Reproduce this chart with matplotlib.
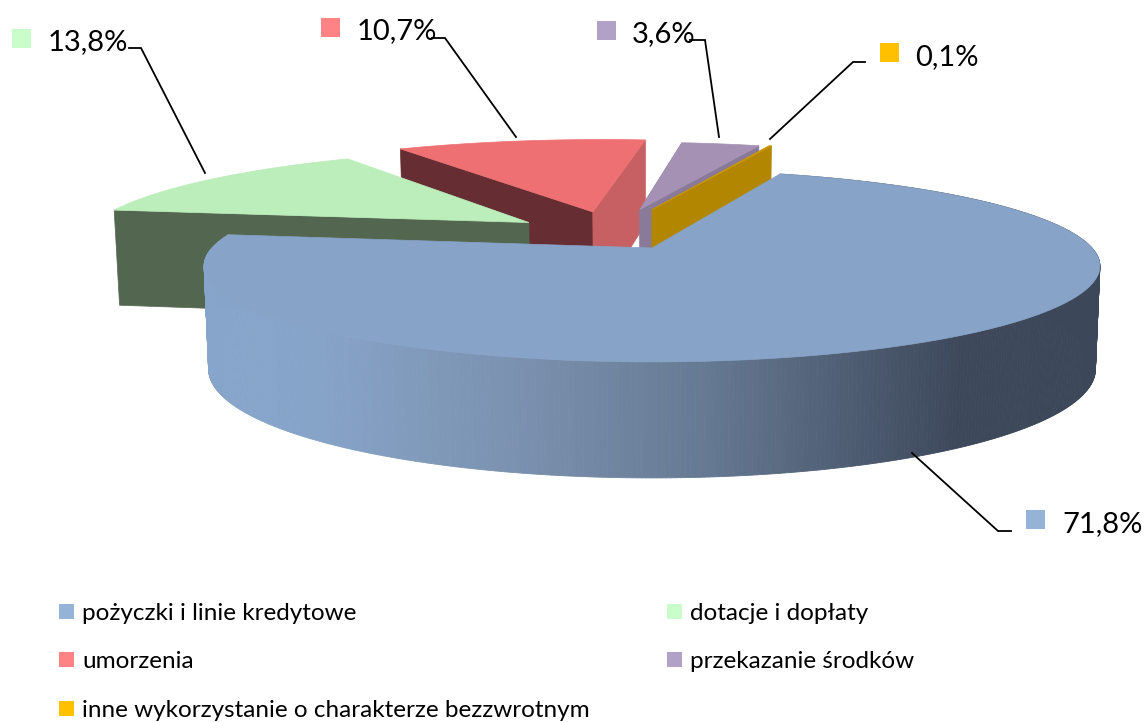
import matplotlib
matplotlib.use("Agg")
import matplotlib.pyplot as plt
from matplotlib.patches import Rectangle
import numpy as np

plt.rcParams['font.family'] = ['Lato', 'DejaVu Sans']

# data
categories = ["pożyczki i linie kredytowe", "dotacje i dopłaty", "umorzenia",
              "przekazanie środków", "inne wykorzystanie o charakterze bezzwrotnym"]
shares = [71.8, 13.8, 10.7, 3.6, 0.1]
share_labels = ["71,8%", "13,8%", "10,7%", "3,6%", "0,1%"]
start_angle = 20.0

# style
legend_colors = ["#95B3D7", "#C9FDC9", "#FF8284", "#B2A1C7", "#FFC000"]
top_colors = ["#87A3C8", "#BBEEBB", "#EE7072", "#A591B4", "#CC9900"]
cut_colors = [None, "#536650", "#662E32", "#8A7A99", "#B38600"]
far_colors = [None, None, "#C66063", "#8A7A99", "#B38600"]
explode = [(0, 0), (-0.295, -0.29), (-0.145, -0.42), (-0.03, -0.45), (0.0, -0.45)]
slice_scale = [1.0, 1.04, 1.08, 1.0, 1.0]

# view of the pie: centre, radius, tilt and perspective
cx, cy = 652, 248
R, ry, k = 440, 92.6, 0.187
D, kd = 100.7, 0.132


def project(u, v, bottom=False):
    w = 1 - k * v
    sx = R * u / w
    sy = ry * v / w
    if bottom:
        return cx + sx * 0.99, cy + sy + D / (1 - kd * v)
    return cx + sx, cy + sy


def arc(a0, a1, off, s=1.0, n=200):
    t = np.radians(np.linspace(a0, a1, n))
    return s * np.sin(t) + off[0], -s * np.cos(t) + off[1]


def cut_wall(ax, angle, off, s, color):
    t = np.radians(angle)
    u = np.array([off[0], s * np.sin(t) + off[0]])
    v = np.array([off[1], -s * np.cos(t) + off[1]])
    x0, y0 = project(u, v)
    x1, y1 = project(u, v, bottom=True)
    ax.fill(np.r_[x0, x1[::-1]], np.r_[y0, y1[::-1]], color=color, lw=0.5)


def top_face(ax, a0, a1, off, s, color):
    u, v = arc(a0, a1, off, s)
    x, y = project(np.r_[off[0], u], np.r_[off[1], v])
    ax.fill(x, y, color=color, lw=0.5)


fig = plt.figure(figsize=(11.46, 7.22), dpi=100)
ax = fig.add_axes([0, 0, 1, 1])
ax.set_xlim(0, 1146)
ax.set_ylim(722, 0)
ax.axis('off')

edges = start_angle + np.r_[0, np.cumsum(shares)] * 3.6

# exploded slices, far ones first
for i in [2, 3, 4, 1]:
    a0, a1 = edges[i], edges[i + 1]
    off = explode[i]
    s = slice_scale[i]
    cut_wall(ax, a0, off, s, cut_colors[i])
    if far_colors[i]:
        cut_wall(ax, a1, off, s, far_colors[i])
    top_face(ax, a0, a1, off, s, top_colors[i])

# big slice: the rim is shaded from left to right
shade_x = [230, 320, 500, 700, 850, 960, 1100]
shade_r = [0x87, 0x86, 0x7C, 0x67, 0x4E, 0x3D, 0x3C]
shade_g = [0xA5, 0xA3, 0x93, 0x7A, 0x5D, 0x48, 0x47]
shade_b = [0xCB, 0xC8, 0xB1, 0x94, 0x72, 0x5B, 0x59]
t = np.linspace(edges[0], edges[1], 500)
for a0, a1 in zip(t[:-1], t[1:]):
    u, v = arc(a0, a1, (0, 0), n=2)
    x0, y0 = project(u, v)
    x1, y1 = project(u, v, bottom=True)
    xm = x0.mean()
    col = (np.interp(xm, shade_x, shade_r) / 255,
           np.interp(xm, shade_x, shade_g) / 255,
           np.interp(xm, shade_x, shade_b) / 255)
    ax.fill(np.r_[x0, x1[::-1]], np.r_[y0, y1[::-1]], color=col, lw=0.6)
top_face(ax, edges[0], edges[1], explode[0], slice_scale[0], top_colors[0])

# data labels with leader lines
label_x = [1062, 48, 357, 632, 915]
label_y = [532, 50, 39, 42, 65]
key_x = [1026, 12, 321, 597, 880]
key_y = [510, 29, 18, 21, 43]
leaders = [([912, 998, 1011], [453, 531, 531]),
           ([205, 141, 129], [173, 48, 48]),
           ([516, 445, 432], [137, 38, 38]),
           ([719, 705, 690], [137, 40, 40]),
           ([770, 853, 865], [139, 62, 62])]
for i, lab in enumerate(share_labels):
    ax.plot(leaders[i][0], leaders[i][1], color='black', lw=1.3, solid_joinstyle='miter')
    ax.add_patch(Rectangle((key_x[i], key_y[i]), 19, 19, color=legend_colors[i], lw=0))
    ax.text(label_x[i], label_y[i], lab, fontsize=21, va='baseline', ha='left', color='black')

# legend
legend_x = [59, 667, 59, 667, 59]
legend_y = [604, 604, 652, 652, 701]
for i, name in enumerate(categories):
    ax.add_patch(Rectangle((legend_x[i], legend_y[i]), 15, 15, color=legend_colors[i], lw=0))
    ax.text(legend_x[i] + 23, legend_y[i] + 16, name, fontsize=17.5, va='baseline', ha='left', color='black')

fig.savefig("out.png", dpi=100)
